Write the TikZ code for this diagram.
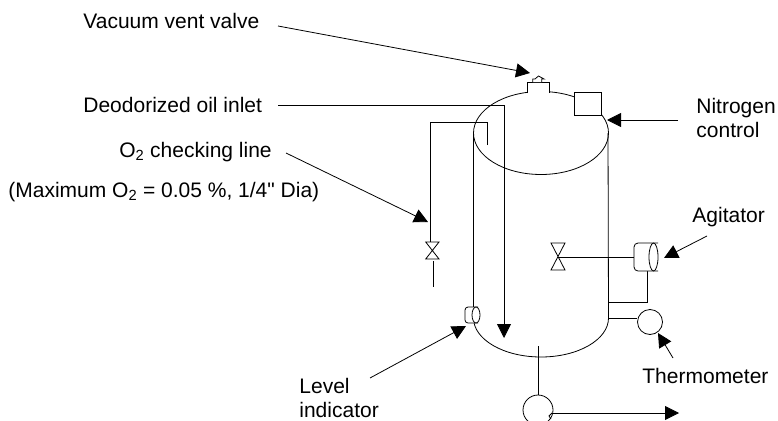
\documentclass[tikz,border=0pt]{standalone}
\usepackage{fontspec}
\newfontfamily\labelfont{Liberation Sans}
\usetikzlibrary{arrows.meta}
\tikzset{
  pointer/.style={-{Triangle[length=14pt,width=14pt]}},
  lbl/.style={anchor=base west, inner sep=0pt, font=\labelfont\fontsize{21}{24}\selectfont, align=left},
  part/.style={draw, fill=white, inner sep=0pt}
}
\begin{document}
\begin{tikzpicture}[x=1pt,y=-1pt,line width=0.8pt]
\useasboundingbox (0,0) rectangle (778,420);
\clip (0,0) rectangle (778,420);
% labels
\node[lbl] (vacuum) at (83,29) {Vacuum vent valve};
\node[lbl] (inlet) at (83,112) {Deodorized oil inlet};
\node[lbl] (checking) at (119,157) {O\textsubscript{2} checking line};
\node[lbl] (maximum) at (8,197) {(Maximum O\textsubscript{2} = 0.05 \%, 1/4" Dia)};
\node[lbl] (nitrogen) at (696,137) {Nitrogen\\control};
\node[lbl] (agitator) at (692,222) {Agitator};
\node[lbl] (thermometer) at (642,383) {Thermometer};
\node[lbl] (level) at (299,417) {Level\\indicator};
% vessel
\draw (473.5,133) -- (473.5,318) arc (180:0:67.5 and 39) -- (608,133);
\draw (541,133) ellipse (67.5 and 41.5);
% top fittings
\draw[fill=white] (527,93) -- (527,82) -- (549,82) -- (549,93);
\draw[fill=white] (532.7,82) -- (532.7,79) -- (535,79) -- (538.5,76) -- (544,79) -- (541.7,79) -- (541.7,82);
\node[part, minimum width=26.5pt, minimum height=22.5pt] (square) at (587.75,103.75) {};
% free ends
\coordinate (vacuumstart) at (278,26);
\coordinate (vacuumtip) at (530,73);
\coordinate (inletstart) at (278,105);
\coordinate (inletbend) at (504,105);
\coordinate (inlettip) at (504,338);
\coordinate (checkstart) at (286,153);
\coordinate (checktip) at (428,222);
\coordinate (nitrogenstart) at (678,120);
\coordinate (nitrogentip) at (607,120);
\coordinate (agitatorstart) at (707,236);
\coordinate (agitatortip) at (664,258);
\coordinate (thermostart) at (673,358);
\coordinate (thermotip) at (658,333);
\coordinate (levelstart) at (370,378);
\coordinate (leveltip) at (466,326);
\coordinate (samplein) at (487,145);
\coordinate (samplebend) at (487,122);
\coordinate (samplecorner) at (430,122);
\coordinate (sampletop) at (430,242);
\coordinate (samplelow) at (433,261);
\coordinate (sampleend) at (433,287);
\coordinate (drainstart) at (538,346);
\coordinate (outlet) at (552,413);
\coordinate (outlettip) at (679,413);
\coordinate (shaftvalve) at (558,257);
\coordinate (motorin) at (634,257);
\coordinate (motorlow) at (647,271);
\coordinate (motorbend) at (647,302);
\coordinate (motorwall) at (608,302);
\coordinate (thermowall) at (608,318);
% pipes
\draw[pointer] (inletstart) -- (inletbend) -- (inlettip);
\draw (samplein) -- (samplebend) -- (samplecorner) -- (sampletop);
\draw (samplelow) -- (sampleend);
\draw (shaftvalve) -- (motorin);
\draw (motorlow) -- (motorbend) -- (motorwall);
% valves
\draw (425.7,242) -- (439,242) -- (425.7,259) -- (439,259) -- cycle;
\draw (551,243) -- (565,243) -- (551,270) -- (565,270) -- cycle;
% agitator and level indicator
\draw[fill=white, rounded corners=4pt] (658,243) -- (634,243) -- (634,271) -- (658,271);
\draw[fill=white] (653.5,257) ellipse (4.5 and 14);
\draw[fill=white, rounded corners=3pt] (478,307) -- (465,307) -- (465,323) -- (478,323);
\draw[fill=white] (476,315) ellipse (4 and 8);
% thermometer and pump
\node[part, circle, minimum size=25pt] (thermo) at (650,322) {};
\draw (thermowall) -- (thermo.west |- thermowall);
\node[part, circle, minimum size=30pt] (pump) at (538,410) {};
\draw (drainstart) -- (pump.north);
\draw (552,413) -- (549,416) -- (551,419);
\draw[pointer] (outlet) -- (outlettip);
% label arrows
\draw[pointer] (vacuumstart) -- (vacuumtip);
\draw[pointer] (checkstart) -- (checktip);
\draw[pointer] (nitrogenstart) -- (nitrogentip);
\draw[pointer] (agitatorstart) -- (agitatortip);
\draw[pointer] (thermostart) -- (thermotip);
\draw[pointer] (levelstart) -- (leveltip);
\end{tikzpicture}
\end{document}
